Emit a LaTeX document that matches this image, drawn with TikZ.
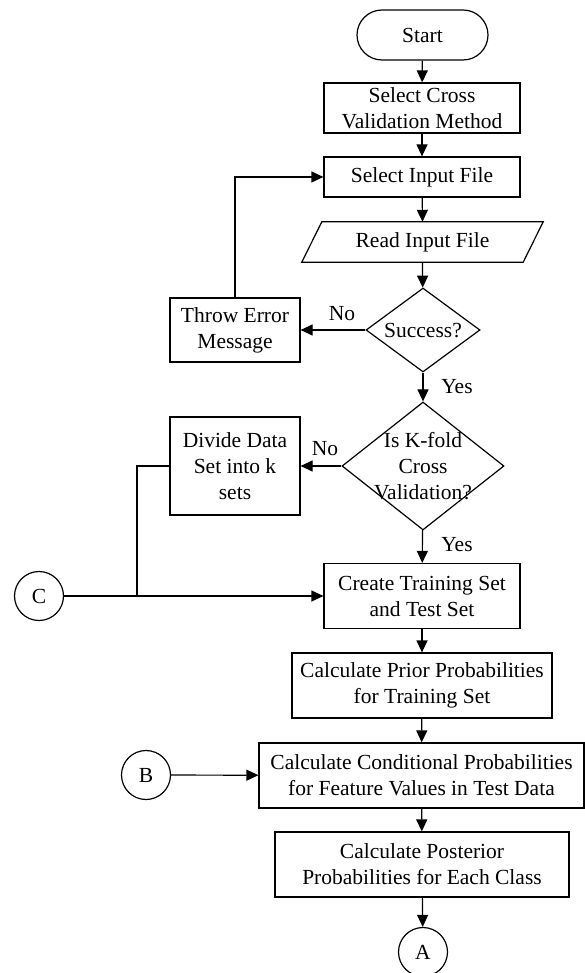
\documentclass[tikz,border=0pt]{standalone}
\usepackage{fontspec}
\setmainfont{Liberation Serif}
\usetikzlibrary{shapes.geometric,arrows.meta}
\begin{document}
\begin{tikzpicture}[x=1pt,y=-1pt,
  every node/.style={font=\fontsize{21.5}{26}\selectfont, inner sep=0pt, align=center},
  box/.style={draw, line width=1.2pt, minimum width=#1},
  conn/.style={draw, line width=1.2pt},
  arr/.style={conn, -{Triangle[length=12pt,width=11pt]}},
  dia/.style={draw, diamond, line width=1.2pt, minimum width=#1},
  circ/.style={draw, circle, line width=1.2pt, minimum size=49pt},
  lbl/.style={font=\fontsize{21.5}{26}\selectfont}]
\useasboundingbox (0,0) rectangle (585,973);
\node[draw, line width=1.2pt, rounded corners=25pt, minimum width=131pt, minimum height=50pt] (start) at (422.5,35) {Start};
\node[box=196pt, minimum height=50pt] (cv) at (422,108) {Select Cross\\Validation Method};
\node[box=196pt, minimum height=40pt] (sif) at (422,177) {Select Input File};
\node[minimum width=221pt, minimum height=40pt] (rif) at (422.5,242) {Read Input File};
\draw[line width=1.2pt] ([xshift=-10pt]rif.south west) -- ([xshift=-10pt]rif.south east) -- ([xshift=10pt]rif.north east) -- ([xshift=10pt]rif.north west) -- cycle;
\node[dia=114pt, minimum height=84pt] (succ) at (423,330) {\smash{\raisebox{-7pt}{Success?}}};
\node[box=130pt, minimum height=64pt] (throw) at (235,330) {Throw Error\\Message};
\node[dia=162pt, minimum height=128pt] (kfold) at (423,466) {\smash{\raisebox{-7pt}{\begin{tabular}{@{}c@{}}Is K-fold\\Cross\\Validation?\end{tabular}}}};
\node[box=130pt, minimum height=98pt] (divide) at (235,466) {Divide Data\\Set into k\\sets};
\node[box=196pt, minimum height=65pt] (create) at (422,596) {Create Training Set\\and Test Set};
\node[box=260pt, minimum height=65pt] (prior) at (422,685.5) {Calculate Prior Probabilities\\for Training Set};
\node[box=325pt, minimum height=65pt] (cond) at (421.5,775.5) {Calculate Conditional Probabilities\\for Feature Values in Test Data};
\node[box=294pt, minimum height=65pt] (post) at (422,864.5) {Calculate Posterior\\Probabilities for Each Class};
\node[circ] (A) at (423,952) {A};
\node[circ] (B) at (146,775) {B};
\node[circ] (C) at (39,596) {C};
\coordinate (j1) at (137,596);
\draw[arr] (start) -- (cv);
\draw[arr] (cv) -- (sif);
\draw[arr] (sif) -- (rif.north);
\draw[arr] (rif.south) -- (succ);
\draw[arr] (succ) -- (throw);
\node[lbl] (no1) at (342,314) {No};
\draw[arr] (throw.north) |- (sif.west);
\draw[arr] (succ) -- (kfold);
\node[lbl] (yes1) at (457,387) {Yes};
\draw[arr] (kfold) -- (divide);
\node[lbl] (no2) at (325,449) {No};
\draw[arr] (kfold) -- (create);
\node[lbl] (yes2) at (457,545) {Yes};
\draw[conn] (divide.west) -| (j1);
\draw[arr] (C) -- (create);
\draw[arr] (create) -- (prior);
\draw[arr] (prior) -- (cond);
\draw[arr] (B) -- (cond);
\draw[arr] (cond) -- (post);
\draw[arr] (post) -- (A);
\end{tikzpicture}
\end{document}
